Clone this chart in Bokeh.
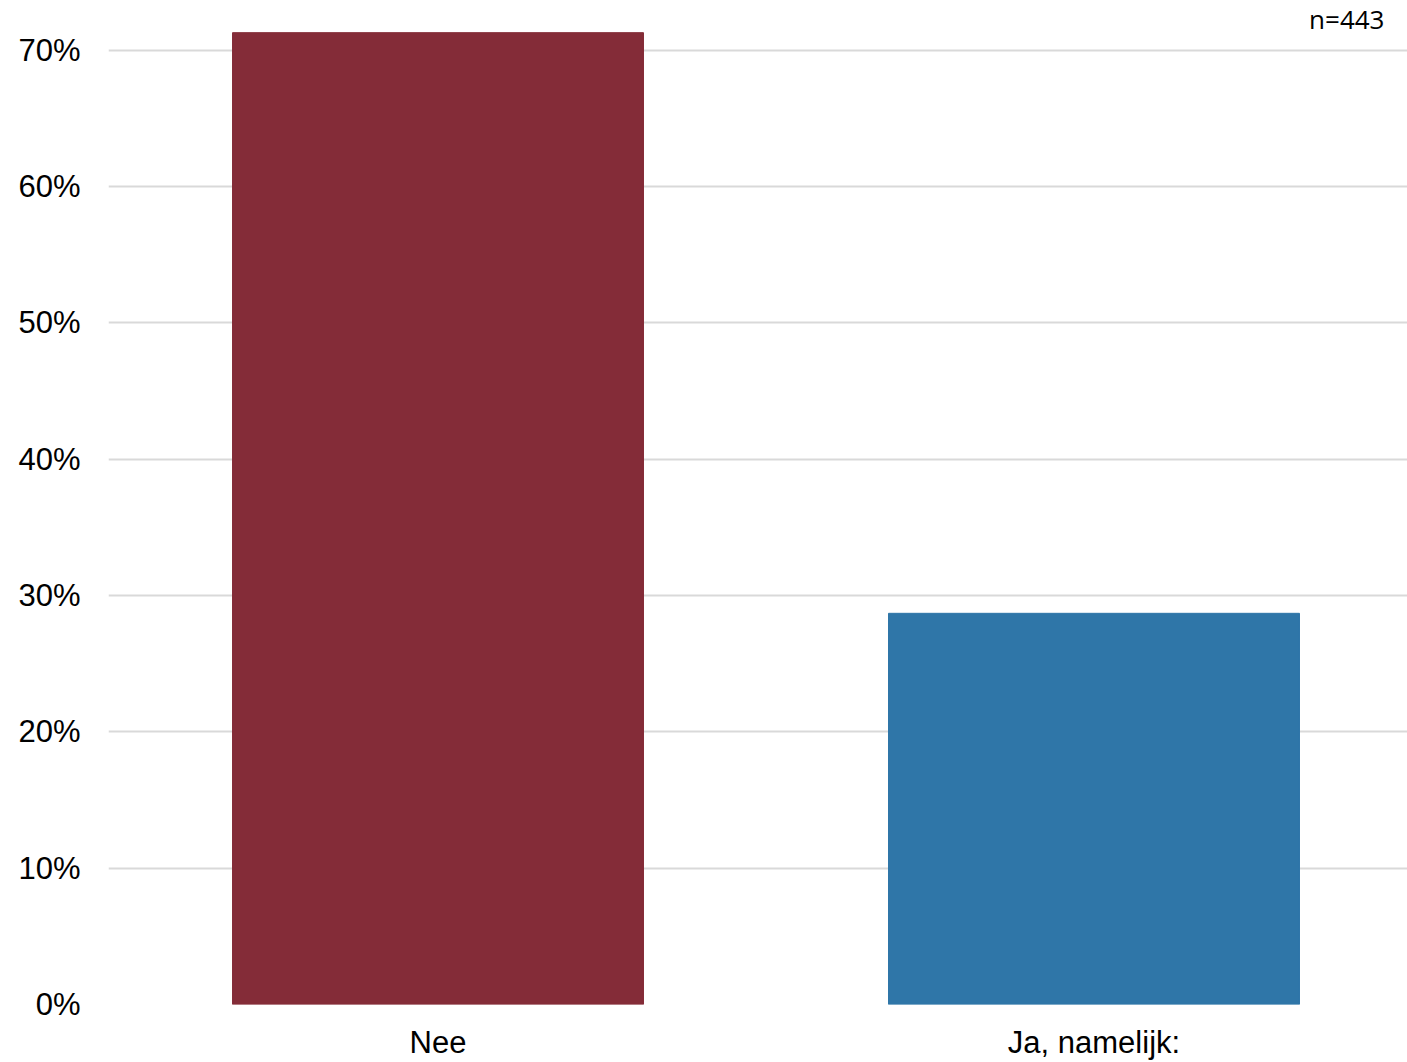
from bokeh.plotting import figure
from bokeh.models import ColumnDataSource, Range1d, FixedTicker, PrintfTickFormatter, Label
from bokeh.embed import file_html
from bokeh.resources import INLINE

categories = ["Nee", "Ja, namelijk:"]
values = [71.3, 28.7]
colors = ["#842C38", "#2F76A8"]
y_ticks = [0, 10, 20, 30, 40, 50, 60, 70]
n_label = "n=443"

positions = list(range(len(categories)))
source = ColumnDataSource(dict(x=positions, top=values, color=colors, cat=categories))

x_start, x_end = -0.5023, 1.4779
y_end = 73.66

p = figure(width=1407, height=1062, output_backend="svg", toolbar_location=None,
           x_range=Range1d(x_start, x_end), y_range=Range1d(0, y_end),
           min_border_left=108, min_border_right=0, min_border_top=0, min_border_bottom=58)

p.vbar(x="x", top="top", width=0.6265, bottom=0, color="color", source=source)

p.outline_line_color = None
p.xgrid.grid_line_color = None
p.ygrid.grid_line_color = "#d9d9d9"
p.ygrid.grid_line_width = 2
p.ygrid.level = "underlay"

p.yaxis.ticker = FixedTicker(ticks=y_ticks)
p.yaxis.formatter = PrintfTickFormatter(format="%d%%")
p.xaxis.ticker = FixedTicker(ticks=positions)
p.xaxis.major_label_overrides = {i: c for i, c in zip(positions, categories)}

for ax in (p.xaxis, p.yaxis):
    ax.axis_line_color = None
    ax.major_tick_line_color = None
    ax.minor_tick_line_color = None
    ax.major_tick_out = 0
    ax.major_tick_in = 0
    ax.minor_tick_out = 0
    ax.major_label_text_font = "Liberation Sans"
    ax.major_label_text_font_size = "31px"
    ax.major_label_text_color = "#000000"

p.yaxis.major_label_standoff = 28
p.xaxis.major_label_standoff = 20

label = Label(x=1.4428, y=72.33, text=n_label,
              text_font="Open Sans", text_font_size="26px", text_color="#000000",
              text_align="right", text_baseline="alphabetic")
p.add_layout(label)

open("out.html", "w").write(file_html(p, INLINE))
